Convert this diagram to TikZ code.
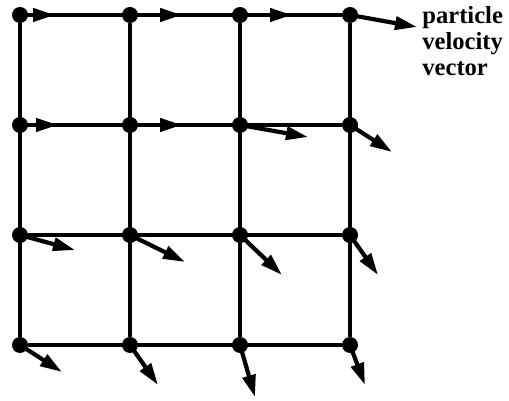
\documentclass[tikz,border=0pt]{standalone}
\usepackage{fontspec}
\setmainfont{Liberation Serif}
\usetikzlibrary{arrows.meta}

\begin{document}
\begin{tikzpicture}[x=0.02cm, y=-0.02cm,
  particle/.style={circle, fill=black, inner sep=0pt, minimum size=0.32cm},
  gridline/.style={line width=1.8pt, black},
  vel/.style={-{Triangle[length=0.44cm, width=0.26cm]}, line width=2.4pt},
  lbl/.style={font=\fontsize{14}{14.8}\selectfont\bfseries, align=left,
              inner sep=0pt}
]
  \useasboundingbox (0,0) rectangle (509,401);
  % particles on the grid
  \foreach \i/\x in {0/20,1/130,2/240,3/350}
    \foreach \j/\y in {0/15,1/125,2/235,3/345}
      \node[particle] (p\i\j) at (\x,\y) {};
  \foreach \i in {0,...,3}{
    \draw[gridline] (p\i0) -- (p\i3);
    \draw[gridline] (p0\i) -- (p3\i);
  }
  % velocity vector tips
  \foreach \i/\j/\x/\y in {0/0/55/15, 1/0/182/15, 2/0/292/15, 3/0/417/27,
                           0/1/58/125, 1/1/182/125, 2/1/308/137, 3/1/392/152,
                           0/2/75/250, 1/2/185/262, 2/2/282/275, 3/2/378/275,
                           0/3/62/372, 1/3/158/385, 2/3/255/397, 3/3/365/385}{
    \coordinate (v\i\j) at (\x,\y);
    \draw[vel] (p\i\j.center) -- (v\i\j);
  }
  \node[lbl, anchor=north west] (label) at (422,6) {particle\\velocity\\vector};
\end{tikzpicture}
\end{document}
